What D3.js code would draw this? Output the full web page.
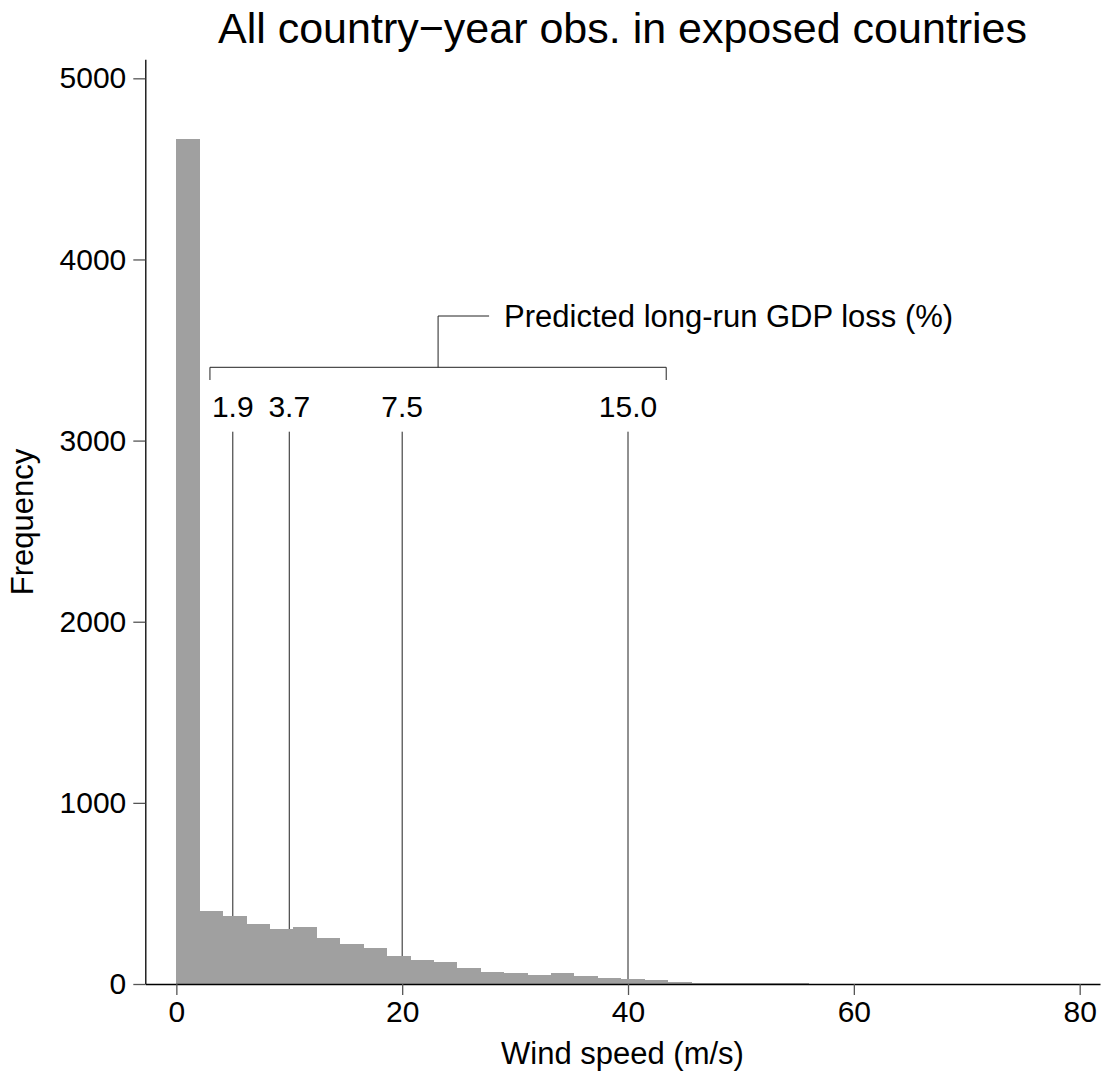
<!DOCTYPE html>
<html>
<head>
<meta charset="utf-8">
<script src="https://cdn.jsdelivr.net/npm/d3@7"></script>
<style>
  html, body { margin: 0; padding: 0; background: #fff; }
  svg { display: block; }
  text { font-family: "Liberation Sans", Arial, Helvetica, sans-serif; fill: #000; }
</style>
</head>
<body>
<svg id="chart" width="1105" height="1084"></svg>
<script>
// Histogram of wind speed (m/s): bins start at 0 with a fixed width
const binStart = 0;
const binWidth = 2.074;
const binCounts = [
  4663, 404, 378, 330, 306, 315, 253, 220, 201, 152,
  131, 120, 91, 67, 60, 52, 58, 43, 34, 26,
  21, 12, 7, 6, 5, 4, 3, 2, 2, 1,
  2, 1, 1, 1, 1, 0, 1, 1
];

// Reference wind speeds and the predicted long-run GDP loss at each
const markSpeeds = [5, 10, 20, 40];
const markLosses = ["1.9", "3.7", "7.5", "15.0"];

const xTicks = [0, 20, 40, 60, 80];
const yTicks = [0, 1000, 2000, 3000, 4000, 5000];

const titleText = "All country\u2212year obs. in exposed countries";
const xTitle = "Wind speed (m/s)";
const yTitle = "Frequency";
const noteText = "Predicted long-run GDP loss (%)";

const bins = binCounts.map((c, i) => ({
  x0: binStart + i * binWidth,
  x1: binStart + (i + 1) * binWidth,
  count: c
}));

const svg = d3.select("#chart");

const x = d3.scaleLinear().domain([-2.75, 81.8]).range([145.3, 1100]);
const y = d3.scaleLinear().domain([0, 5105]).range([984, 59.3]);

// Title
svg.append("text")
  .attr("x", 622.5).attr("y", 43)
  .attr("text-anchor", "middle")
  .style("font-size", "43px")
  .text(titleText);

// Vertical reference lines (drawn under the bars)
const labelBaseline = 416.7;
const lineTop = 431.7;
svg.append("g").selectAll("line")
  .data(markSpeeds)
  .join("line")
  .attr("x1", d => x(d)).attr("x2", d => x(d))
  .attr("y1", lineTop).attr("y2", y(0))
  .attr("stroke", "#222").attr("stroke-width", 1);

// Bars
svg.append("g").selectAll("rect")
  .data(bins)
  .join("rect")
  .attr("x", d => x(d.x0))
  .attr("width", d => x(d.x1) - x(d.x0))
  .attr("y", d => y(d.count))
  .attr("height", d => y(0) - y(d.count))
  .attr("fill", "#a0a0a0")
  .attr("shape-rendering", "crispEdges");

// Loss labels above each reference line
const labels = svg.append("g").selectAll("text")
  .data(markSpeeds)
  .join("text")
  .attr("x", d => x(d)).attr("y", labelBaseline)
  .attr("text-anchor", "middle")
  .style("font-size", "30px")
  .text((d, i) => markLosses[i]);

// Bracket grouping the labels, with a leader to the note
const lb = labels.nodes().map(n => n.getBBox());
const bL = lb[0].x - 2;
const bR = lb[lb.length - 1].x + lb[lb.length - 1].width + 9;
const bY = 367.3, bEnd = 380, stemTop = 316;
const bMid = (bL + bR) / 2;
svg.append("path")
  .attr("d", `M${bL},${bEnd}V${bY}H${bR}V${bEnd}M${bMid},${bY}V${stemTop}H${bMid + 51}`)
  .attr("fill", "none").attr("stroke", "#222").attr("stroke-width", 1);
svg.append("text")
  .attr("x", bMid + 66).attr("y", stemTop + 10.5)
  .style("font-size", "31px")
  .text(noteText);

// Axes
const xAxis = svg.append("g")
  .attr("transform", `translate(0,${y(0)})`)
  .call(d3.axisBottom(x).tickValues(xTicks).tickFormat(d3.format("d"))
    .tickSize(11).tickPadding(6).tickSizeOuter(0));
const yAxis = svg.append("g")
  .attr("transform", `translate(${x.range()[0]},0)`)
  .call(d3.axisLeft(y).tickValues(yTicks).tickFormat(d3.format("d"))
    .tickSize(12).tickPadding(7).tickSizeOuter(0));
[xAxis, yAxis].forEach(g => {
  g.select(".domain").attr("stroke", "#000").attr("stroke-width", 1.3);
  g.selectAll(".tick line").attr("stroke", "#555").attr("stroke-width", 1.3);
  g.selectAll(".tick text")
    .style("font-size", "30px")
    .style("font-family", "\"Liberation Sans\", Arial, Helvetica, sans-serif")
    .attr("fill", "#000");
});

// Axis titles
svg.append("text")
  .attr("x", 622.5).attr("y", 1064)
  .attr("text-anchor", "middle")
  .style("font-size", "31px")
  .text(xTitle);
svg.append("text")
  .attr("transform", "translate(33,522) rotate(-90)")
  .attr("text-anchor", "middle")
  .style("font-size", "31px")
  .text(yTitle);
</script>
</body>
</html>
